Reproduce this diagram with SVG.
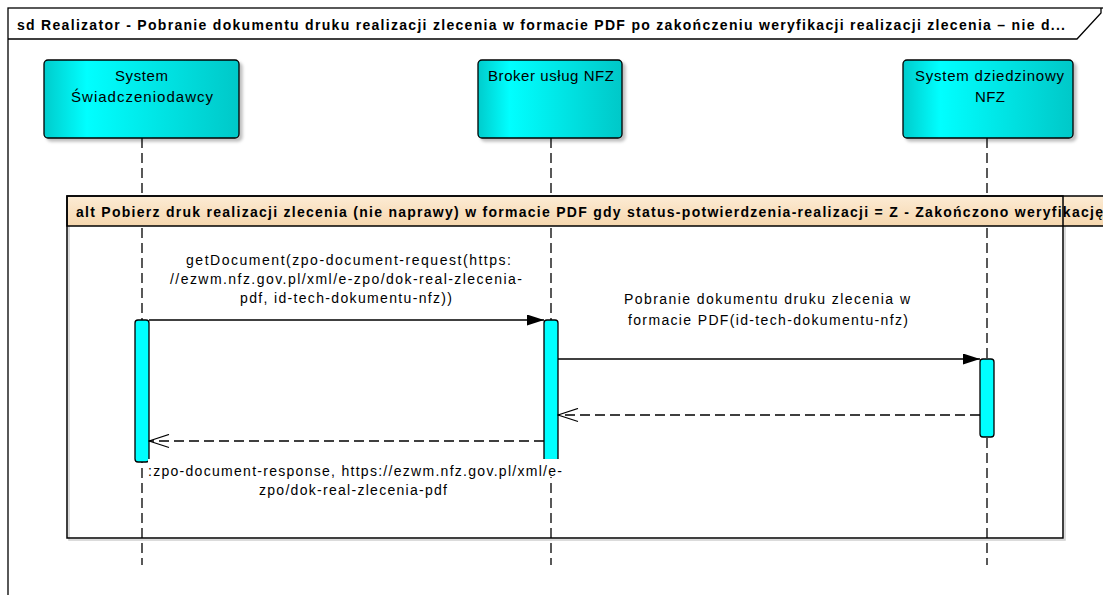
<svg xmlns="http://www.w3.org/2000/svg" width="1103" height="595" viewBox="0 0 1103 595">
  <defs>
    <linearGradient id="gNode" x1="0" y1="0" x2="1" y2="0">
      <stop offset="0" stop-color="#00CCCC"/>
      <stop offset="0.22" stop-color="#00FFFF"/>
      <stop offset="1" stop-color="#00C8C8"/>
    </linearGradient>
    <linearGradient id="gAlt" x1="0" y1="0" x2="0" y2="1">
      <stop offset="0" stop-color="#FCEBD4"/>
      <stop offset="1" stop-color="#F6D7AE"/>
    </linearGradient>
    <filter id="shadow" x="-10%" y="-10%" width="130%" height="130%">
      <feDropShadow dx="3" dy="3" stdDeviation="1.5" flood-color="#000" flood-opacity="0.25"/>
    </filter>
    <marker id="arrFilled" viewBox="0 0 17 11" refX="17" refY="5.5" markerWidth="17" markerHeight="11" markerUnits="userSpaceOnUse" orient="auto">
      <path d="M0,0 L17,5.5 L0,11 Z" fill="#000" stroke="none"/>
    </marker>
    <marker id="arrOpen" viewBox="-1 -1 22 15" refX="20" refY="6.5" markerWidth="22" markerHeight="15" markerUnits="userSpaceOnUse" orient="auto">
      <path d="M0,0 L20,6.5 L0,13" fill="none" stroke="#000" stroke-width="1.3" stroke-dasharray="none"/>
    </marker>
  </defs>
  <style>
    .title { font-family: "Liberation Sans", Arial, sans-serif; font-size: 14px; font-weight: bold; fill: #000; }
    .lbl { font-family: "Liberation Sans", Arial, sans-serif; font-size: 14px; fill: #000; }
    .nlbl { font-family: "Liberation Sans", Arial, sans-serif; font-size: 15px; fill: #000; }
    .node { fill: url(#gNode); stroke: #000; stroke-width: 1.3; filter: url(#shadow); }
    .life { stroke: #000; stroke-width: 1.3; stroke-dasharray: 10 5; fill: none; }
    .act { fill: #00FFFF; stroke: #000; stroke-width: 1.3; }
    .msg { stroke: #000; stroke-width: 1.5; fill: none; }
    .ret { stroke: #000; stroke-width: 1.5; fill: none; stroke-dasharray: 10 5; }
  </style>

  <rect x="0" y="0" width="1103" height="595" fill="#fff"/>

  <g id="frame">
    <rect x="8" y="8" width="1110" height="620" fill="#fff" stroke="#000" stroke-width="1.3"/>
    <path d="M8,39 H1077 L1101,13 V8" fill="none" stroke="#000" stroke-width="1.3"/>
    <text class="title" x="17" y="30" textLength="1048" lengthAdjust="spacing">sd Realizator - Pobranie dokumentu druku realizacji zlecenia w formacie PDF po zakończeniu weryfikacji realizacji zlecenia – nie d...</text>
  </g>

  <g id="lifelines">
    <line class="life" x1="142" y1="138" x2="142" y2="565"/>
    <line class="life" x1="551" y1="138" x2="551" y2="565"/>
    <line class="life" x1="987" y1="138" x2="987" y2="565"/>
  </g>

  <g id="node-system-swiadczeniodawcy">
    <rect class="node" x="44" y="60" width="195" height="78" rx="4"/>
    <text class="nlbl" x="141.5" y="81" text-anchor="middle" textLength="53" lengthAdjust="spacing">System</text>
    <text class="nlbl" x="142" y="102" text-anchor="middle" textLength="142" lengthAdjust="spacing">Świadczeniodawcy</text>
  </g>

  <g id="node-broker-uslug-nfz">
    <rect class="node" x="478" y="60" width="144" height="78" rx="4"/>
    <text class="nlbl" x="551" y="81" text-anchor="middle" textLength="126" lengthAdjust="spacing">Broker usług NFZ</text>
  </g>

  <g id="node-system-dziedzinowy-nfz">
    <rect class="node" x="903" y="60" width="170" height="78" rx="4"/>
    <text class="nlbl" x="989.5" y="81" text-anchor="middle" textLength="149" lengthAdjust="spacing">System dziedzinowy</text>
    <text class="nlbl" x="990" y="102" text-anchor="middle" textLength="30" lengthAdjust="spacing">NFZ</text>
  </g>

  <g id="fragment-alt">
    <rect x="69" y="198" width="996" height="342" fill="none" stroke="#d0d0d0" stroke-width="1.5"/>
    <rect x="67" y="196" width="1050" height="30" fill="url(#gAlt)" stroke="#000" stroke-width="1.5"/>
    <rect x="67" y="196" width="996" height="342" fill="none" stroke="#000" stroke-width="1.5"/>
    <text class="title" x="76" y="217" textLength="1027" lengthAdjust="spacing">alt Pobierz druk realizacji zlecenia (nie naprawy) w formacie PDF gdy status-potwierdzenia-realizacji = Z - Zakończono weryfikację</text>
  </g>

  <g id="activations">
    <rect class="act" x="135" y="320" width="14" height="142" rx="3"/>
    <rect class="act" x="544" y="320" width="14" height="150" rx="3"/>
    <rect class="act" x="980" y="359" width="14" height="78" rx="3"/>
  </g>

  <g id="connectors">
    <g id="msg-getDocument">
      <line class="msg" x1="149" y1="320" x2="544" y2="320" marker-end="url(#arrFilled)"/>
      <text class="lbl" x="348.5" y="265" text-anchor="middle" textLength="325" lengthAdjust="spacing">getDocument(zpo-document-request(https:</text>
      <text class="lbl" x="346" y="284" text-anchor="middle" textLength="352" lengthAdjust="spacing">//ezwm.nfz.gov.pl/xml/e-zpo/dok-real-zlecenia-</text>
      <text class="lbl" x="346" y="303" text-anchor="middle" textLength="212" lengthAdjust="spacing">pdf, id-tech-dokumentu-nfz))</text>
    </g>
    <g id="msg-pobranie">
      <line class="msg" x1="558" y1="359" x2="980" y2="359" marker-end="url(#arrFilled)"/>
      <text class="lbl" x="767" y="304" text-anchor="middle" textLength="286" lengthAdjust="spacing">Pobranie dokumentu druku zlecenia w</text>
      <text class="lbl" x="768" y="325" text-anchor="middle" textLength="280" lengthAdjust="spacing">formacie PDF(id-tech-dokumentu-nfz)</text>
    </g>
    <g id="ret-pobranie">
      <line class="ret" x1="980" y1="415" x2="558" y2="415" marker-end="url(#arrOpen)"/>
    </g>
    <g id="ret-getDocument">
      <line class="ret" x1="544" y1="441" x2="149" y2="441" marker-end="url(#arrOpen)"/>
      <rect x="148" y="459" width="416" height="18" fill="#fff"/>
      <text class="lbl" x="355" y="476" text-anchor="middle" textLength="414" lengthAdjust="spacing">:zpo-document-response, https://ezwm.nfz.gov.pl/xml/e-</text>
      <text class="lbl" x="353" y="495" text-anchor="middle" textLength="188" lengthAdjust="spacing">zpo/dok-real-zlecenia-pdf</text>
    </g>
  </g>
</svg>
